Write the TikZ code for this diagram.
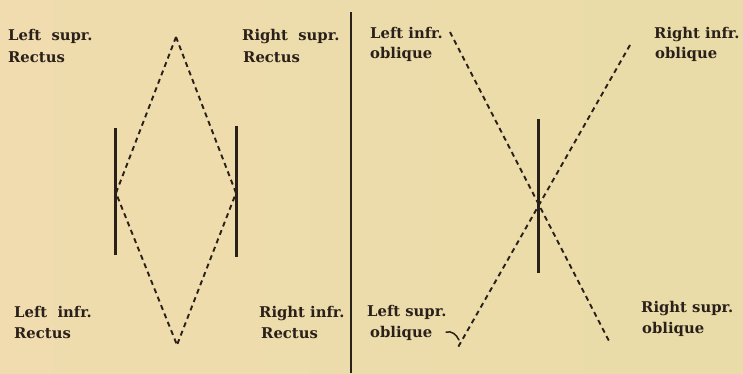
\documentclass[tikz,border=0pt]{standalone}
\usepackage{fontspec}
\setmainfont{DejaVu Serif}
\definecolor{paperL}{HTML}{F0DCAE}
\definecolor{paperR}{HTML}{E9DCA8}
\definecolor{ink}{HTML}{2A201A}
\begin{document}
\begin{tikzpicture}[x=1pt,y=-1pt,
  lbl/.style={anchor=base west,inner sep=0pt,font=\bfseries\fontsize{14.8}{16}\selectfont,text=ink},
  bar/.style={draw=ink,line width=3pt},
  dline/.style={draw=ink,line width=1.9pt,dash pattern=on 5pt off 4pt},
  thin/.style={draw=ink,line width=1.5pt,line cap=round}]
\useasboundingbox (0,0) rectangle (743,373);
\shade[left color=paperL,right color=paperR] (0,0) rectangle (743,373);
% left panel
\coordinate (dtop) at (176,37);
\coordinate (dbot) at (177,345);
\coordinate (dleft) at (116,193);
\coordinate (dright) at (236,193);
\coordinate (lb1) at (115,128); \coordinate (lb2) at (115,255);
\coordinate (rb1) at (236,126); \coordinate (rb2) at (236,257);
\draw[bar] (lb1) -- (lb2);
\draw[bar] (rb1) -- (rb2);
\draw[dline] (dtop) -- (dleft) -- (dbot);
\draw[dline] (dtop) -- (dright) -- (dbot);
% divider
\coordinate (div1) at (351,12); \coordinate (div2) at (351,373);
\draw[draw=ink,line width=2.8pt] (div1) -- (div2);
% right panel
\coordinate (cb1) at (538,119); \coordinate (cb2) at (538,273);
\draw[bar] (cb1) -- (cb2);
\coordinate (o1a) at (450,32); \coordinate (o1b) at (610,343);
\coordinate (o2a) at (630,45); \coordinate (o2b) at (457,349);
\draw[dline] (o1a) -- (o1b);
\draw[dline] (o2a) -- (o2b);
\coordinate (tk1) at (446,332); \coordinate (tk2) at (459,340);
\draw[thin] (tk1) .. controls (452,331) and (456,334) .. (tk2);
% labels
\node[lbl] (t1) at (8,40) {Left\ \ supr.};
\node[lbl] (t2) at (8,62) {Rectus};
\node[lbl] (t3) at (242,40) {Right\ \ supr.};
\node[lbl] (t4) at (243,62) {Rectus};
\node[lbl] (t5) at (14,317) {Left\ \ infr.};
\node[lbl] (t6) at (14,338) {Rectus};
\node[lbl] (t7) at (259,317) {Right infr.};
\node[lbl] (t8) at (261,338) {Rectus};
\node[lbl] (t9) at (370,38) {Left infr.};
\node[lbl] (t10) at (370,58) {oblique};
\node[lbl] (t11) at (654,38) {Right infr.};
\node[lbl] (t12) at (655,58) {oblique};
\node[lbl] (t13) at (367,316) {Left supr.};
\node[lbl] (t14) at (370,337) {oblique};
\node[lbl] (t15) at (641,312) {Right\ supr.};
\node[lbl] (t16) at (642,333) {oblique};
\end{tikzpicture}
\end{document}
